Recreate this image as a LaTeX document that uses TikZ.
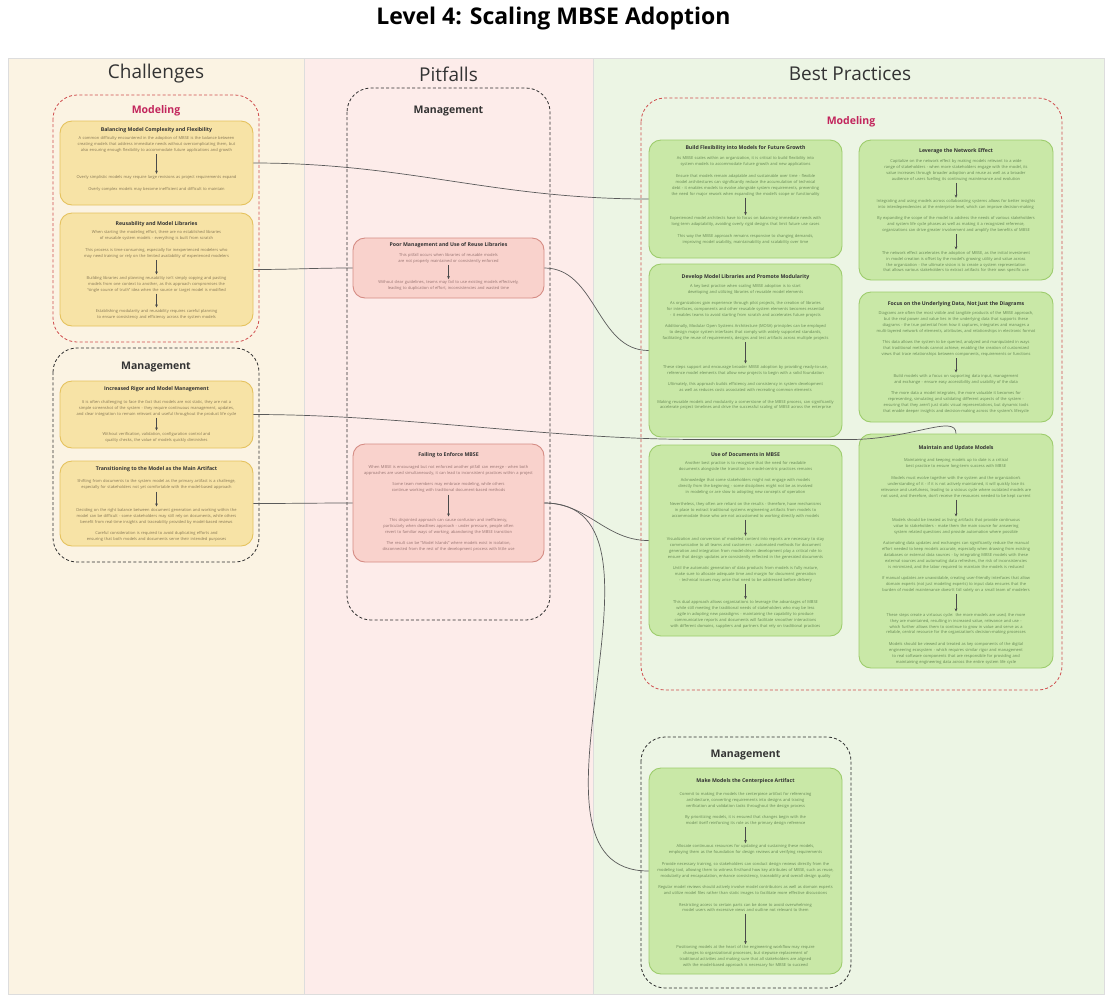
\documentclass[tikz,border=0pt]{standalone}
\usepackage{fontspec}
\setmainfont{Open Sans}
\usetikzlibrary{arrows.meta}

\definecolor{chalbg}{HTML}{FBF3E3}
\definecolor{pitbg}{HTML}{FDECEA}
\definecolor{bestbg}{HTML}{ECF5E4}
\definecolor{colline}{HTML}{DDDDDD}
\definecolor{yfill}{HTML}{F7E3A6}
\definecolor{ydraw}{HTML}{E5C25E}
\definecolor{ytext}{HTML}{857654}
\definecolor{pfill}{HTML}{F9D2CC}
\definecolor{pdraw}{HTML}{D58C84}
\definecolor{ptext}{HTML}{967370}
\definecolor{gfill}{HTML}{C9E8A7}
\definecolor{gdraw}{HTML}{9DCC6C}
\definecolor{gtext}{HTML}{668654}
\definecolor{ttlcol}{HTML}{333333}
\definecolor{modcol}{HTML}{C2255C}
\definecolor{moddash}{HTML}{CF4D4D}
\definecolor{mgmtdash}{HTML}{2E2E2E}
\definecolor{linkcol}{HTML}{5A5A5A}
\definecolor{arrcol}{HTML}{4A4A4A}

\newcommand{\paragap}{\\[5.6pt]}
\hyphenpenalty=10000
\exhyphenpenalty=10000

\begin{document}
\begin{tikzpicture}[x=1pt,y=-1pt,
  colbg/.style={draw=colline, line width=0.5pt},
  hdr/.style={font=\fontsize{19}{22}\selectfont, text=ttlcol, inner sep=0pt},
  grplabel/.style={font=\fontsize{10.5}{12}\selectfont\bfseries, inner sep=0pt},
  grp/.style={rounded corners=24pt, line width=0.8pt, dash pattern=on 3pt off 2.2pt},
  card/.style={rectangle, rounded corners=12pt, line width=0.9pt, inner sep=0pt},
  ycard/.style={card, draw=ydraw, fill=yfill},
  pcard/.style={card, draw=pdraw, fill=pfill},
  gcard/.style={card, draw=gdraw, fill=gfill},
  cardtitle/.style={font=\fontsize{5.2}{6}\selectfont\bfseries, text=ttlcol, inner sep=0pt},
  body/.style={anchor=north, text width=178pt, align=center, inner sep=0pt, font=\fontsize{4}{5.9}\selectfont},
  ybody/.style={body, text=ytext},
  pbody/.style={body, text=ptext, text width=176pt},
  gbody/.style={body, text=gtext},
  flow/.style={-{Stealth[length=3.2pt,width=2.8pt]}, draw=arrcol, line width=0.6pt, shorten <=1.5pt, shorten >=1.5pt},
  link/.style={draw=linkcol, line width=0.7pt},
]
\useasboundingbox (0,0) rectangle (1107,994);
\fill[white] (0,0) rectangle (1107,994);

% ---------- title and columns ----------
\node[font=\fontsize{23}{26}\selectfont\bfseries, text=black, inner sep=0pt] (title) at (553.5,19) {Level 4: Scaling MBSE Adoption};

\path[colbg, fill=chalbg] (8,58) rectangle (304,994);
\path[colbg, fill=pitbg] (304,58) rectangle (593,994);
\path[colbg, fill=bestbg] (593,58) rectangle (1104,994);

\node[hdr] (hchal) at (156,74) {Challenges};
\node[hdr] (hpit) at (448.5,74) {Pitfalls};
\node[hdr] (hbest) at (850,74) {Best Practices};

% ---------- dashed groups ----------
\draw[grp, draw=moddash] (53,95) rectangle (259,342);
\draw[grp, draw=mgmtdash] (53,348) rectangle (259,562);
\draw[grp, draw=mgmtdash] (347,88) rectangle (550,620);
\draw[grp, draw=moddash] (641,98) rectangle (1062,690);
\draw[grp, draw=mgmtdash] (641,737) rectangle (851,988);

\node[grplabel, text=modcol] (gcm) at (156,111) {Modeling};
\node[grplabel, text=ttlcol] (gcg) at (156,367) {Management};
\node[grplabel, text=ttlcol] (gpg) at (448.5,111) {Management};
\node[grplabel, text=modcol] (gbm) at (851,122) {Modeling};
\node[grplabel, text=ttlcol] (gbg) at (745.5,755) {Management};

% ---------- cards ----------
\node[ycard, minimum width=193pt, minimum height=84pt] (ch1) at (156.5,163) {};
\node[ycard, minimum width=193pt, minimum height=113pt] (ch2) at (156.5,269.5) {};
\node[ycard, minimum width=193pt, minimum height=67pt] (ch3) at (156.5,414.5) {};
\node[ycard, minimum width=193pt, minimum height=85pt] (ch4) at (156.5,503.5) {};
\node[pcard, minimum width=191pt, minimum height=60pt] (p1) at (448.5,268) {};
\node[pcard, minimum width=191pt, minimum height=118pt] (p2) at (448.5,503) {};
\node[gcard, minimum width=193pt, minimum height=118pt] (b1) at (745.5,199) {};
\node[gcard, minimum width=194pt, minimum height=140pt] (b2) at (956,210) {};
\node[gcard, minimum width=193pt, minimum height=173pt] (b3) at (745.5,350.5) {};
\node[gcard, minimum width=194pt, minimum height=130pt] (b4) at (956,357) {};
\node[gcard, minimum width=193pt, minimum height=191pt] (b5) at (745.5,540.5) {};
\node[gcard, minimum width=194pt, minimum height=234pt] (b6) at (956,551) {};
\node[gcard, minimum width=193pt, minimum height=206pt] (b7) at (745.5,871) {};

% ---------- connectors between cards ----------
\draw[link] (ch1.east) to[out=0,in=180] (b1.west);
\draw[link] (ch2.east) to[out=0,in=180] (p1.west);
\draw[link] (p1.east) to[out=0,in=180] (b3.west);
\draw[link] (ch3.east) .. controls +(150,0) and +(-150,0) .. ++(447,25) -- ++(150,0)
   .. controls +(60,0) and +(0,-20) .. (b6.north);
\draw[link] (ch4.east) to[out=0,in=180] (p2.west);
\draw[link] (p2.east) to[out=0,in=180] (b5.west);
\draw[link] (p2.east) to[out=0,in=180] (b7.west);

% ---------- Challenges: Modeling ----------
\node[cardtitle] (ch1t) at (156.5,129.7) {Balancing Model Complexity and Flexibility};
\node[ybody] (ch1a) at (156.5,136.7) {A common difficulty encountered in the adoption of MBSE is the balance between creating models that address immediate needs without overcomplicating them, but also ensuring enough flexibility to accommodate future applications and growth};
\node[ybody] (ch1b) at (156.5,175.3) {Overly simplistic models may require large revisions as project requirements expand\paragap Overly complex models may become inefficient and difficult to maintain};
\draw[flow] (ch1a.south) -- (ch1b.north);

\node[cardtitle] (ch2t) at (156.5,224) {Reusability and Model Libraries};
\node[ybody] (ch2a) at (156.5,230.7) {When starting the modeling effort, there are no established libraries of reusable system models - everything is built from scratch\paragap This process is time-consuming, especially for inexperienced modelers who may need training or rely on the limited availability of experienced modelers};
\node[ybody] (ch2b) at (156.5,276) {Building libraries and planning reusability isn't simply copying and pasting models from one context to another, as this approach compromises the ``single source of truth'' idea when the source or target model is modified};
\node[ybody] (ch2c) at (156.5,309) {Establishing modularity and reusability requires careful planning to ensure consistency and efficiency across the system models};
\draw[flow] (ch2a.south) -- (ch2b.north);
\draw[flow] (ch2b.south) -- (ch2c.north);

% ---------- Challenges: Management ----------
\node[cardtitle] (ch3t) at (156.5,389) {Increased Rigor and Model Management};
\node[ybody] (ch3a) at (156.5,400) {It is often challenging to face the fact that models are not static, they are not a simple screenshot of the system - they require continuous management, updates, and clear integration to remain relevant and useful throughout the product life cycle};
\node[ybody] (ch3b) at (156.5,432) {Without verification, validation, configuration control and quality checks, the value of models quickly diminishes};
\draw[flow] (ch3a.south) -- (ch3b.north);

\node[cardtitle] (ch4t) at (156.5,469) {Transitioning to the Model as the Main Artifact};
\node[ybody] (ch4a) at (156.5,479.7) {Shifting from documents to the system model as the primary artifact is a challenge, especially for stakeholders not yet comfortable with the model-based approach};
\node[ybody] (ch4b) at (156.5,508) {Deciding on the right balance between document generation and working within the model can be difficult - some stakeholders may still rely on documents, while others benefit from real-time insights and traceability provided by model-based reviews\paragap Careful consideration is required to avoid duplicating efforts and ensuring that both models and documents serve their intended purposes};
\draw[flow] (ch4a.south) -- (ch4b.north);

% ---------- Pitfalls ----------
\node[cardtitle] (p1t) at (448.5,245) {Poor Management and Use of Reuse Libraries};
\node[pbody] (p1a) at (448.5,253) {This pitfall occurs when libraries of reusable models are not properly maintained or consistently enforced};
\node[pbody] (p1b) at (448.5,280.7) {Without clear guidelines, teams may fail to use existing models effectively, leading to duplication of effort, inconsistencies and wasted time};
\draw[flow] (p1a.south) -- (p1b.north);

\node[cardtitle] (p2t) at (448.5,455) {Failing to Enforce MBSE};
\node[pbody] (p2a) at (448.5,465.3) {When MBSE is encouraged but not enforced another pitfall can emerge - when both approaches are used simultaneously, it can lead to inconsistent practices within a project\paragap Some team members may embrace modeling, while others continue working with traditional document-based methods};
\node[pbody] (p2b) at (448.5,518) {This disjointed approach can cause confusion and inefficiency, particularly when deadlines approach - under pressure, people often revert to familiar ways of working, abandoning the MBSE transition\paragap The result can be ``Model Islands'' where models exist in isolation, disconnected from the rest of the development process with little use};
\draw[flow] (p2a.south) -- (p2b.north);

% ---------- Best Practices: Modeling ----------
\node[cardtitle] (b1t) at (745.5,148) {Build Flexibility into Models for Future Growth};
\node[gbody] (b1a) at (745.5,156.7) {As MBSE scales within an organization, it is critical to build flexibility into system models to accommodate future growth and new applications\paragap Ensure that models remain adaptable and sustainable over time - flexible model architectures can significantly reduce the accumulation of technical debt - it enables models to evolve alongside system requirements, preventing the need for major rework when expanding the model's scope or functionality};
\node[gbody] (b1b) at (745.5,216.7) {Experienced model architects have to focus on balancing immediate needs with long-term adaptability, avoiding overly rigid designs that limit future use cases\paragap This way the MBSE approach remains responsive to changing demands, improving model usability, maintainability and scalability over time};
\draw[flow] (b1a.south) -- (b1b.north);

\node[cardtitle] (b2t) at (956,150.7) {Leverage the Network Effect};
\node[gbody] (b2a) at (956,159.3) {Capitalize on the network effect by making models relevant to a wide range of stakeholders - when more stakeholders engage with the model, its value increases through broader adoption and reuse as well as a broader audience of users fuelling its continuing maintenance and evolution};
\node[gbody] (b2b) at (956,199.3) {Integrating and using models across collaborating systems allows for better insights into interdependencies at the enterprise level, which can improve decision-making\paragap By expanding the scope of the model to address the needs of various stakeholders and system life cycle phases as well as making it a recognized reference, organizations can drive greater involvement and amplify the benefits of MBSE};
\node[gbody] (b2c) at (956,251) {The network effect accelerates the adoption of MBSE, as the initial investment in model creation is offset by the model's growing utility and value across the organization - the ultimate vision is to create a system representation that allows various stakeholders to extract artifacts for their own specific use};
\draw[flow] (b2a.south) -- (b2b.north);
\draw[flow] (b2b.south) -- (b2c.north);

\node[cardtitle] (b3t) at (745.5,277) {Develop Model Libraries and Promote Modularity};
\node[gbody] (b3a) at (745.5,284) {A key best practice when scaling MBSE adoption is to start developing and utilizing libraries of reusable model elements\paragap As organizations gain experience through pilot projects, the creation of libraries for interfaces, components and other reusable system elements becomes essential - it enables teams to avoid starting from scratch and accelerates future projects\paragap Additionally, Modular Open Systems Architecture (MOSA) principles can be employed to design major system interfaces that comply with widely supported standards, facilitating the reuse of requirements, designs and test artifacts across multiple projects};
\node[gbody] (b3b) at (745.5,365) {These steps support and encourage broader MBSE adoption by providing ready-to-use, reference model elements that allow new projects to begin with a solid foundation\paragap Ultimately, this approach builds efficiency and consistency in system development as well as reduces costs associated with recreating common elements\paragap Making reusable models and modularity a cornerstone of the MBSE process, can significantly accelerate project timelines and drive the successful scaling of MBSE across the enterprise};
\draw[flow] (b3a.south) -- (b3b.north);

\node[cardtitle] (b4t) at (956,304) {Focus on the Underlying Data, Not Just the Diagrams};
\node[gbody] (b4a) at (956,311.3) {Diagrams are often the most visible and tangible products of the MBSE approach, but the real power and value lies in the underlying data that supports these diagrams - the true potential from how it captures, integrates and manages a multi-layered network of elements, attributes, and relationships in electronic format\paragap This data allows the system to be queried, analyzed and manipulated in ways that traditional methods cannot achieve, enabling the creation of customized views that trace relationships between components, requirements or functions};
\node[gbody] (b4b) at (956,374) {Build models with a focus on supporting data input, management and exchange - ensure easy accessibility and usability of the data\paragap The more data a model integrates, the more valuable it becomes for representing, simulating and validating different aspects of the system - ensuring that they aren't just static visual representations, but dynamic tools that enable deeper insights and decision-making across the system's lifecycle};
\draw[flow] (b4a.south) -- (b4b.north);

\node[cardtitle] (b5t) at (745.5,455) {Use of Documents in MBSE};
\node[gbody] (b5a) at (745.5,461.3) {Another best practice is to recognize that the need for readable documents alongside the transition to model-centric practices remains\paragap Acknowledge that some stakeholders might not engage with models directly from the beginning - some disciplines might not be as involved in modeling or are slow to adopting new concepts of operation\paragap Nevertheless, they often are reliant on the results - therefore, have mechanisms in place to extract traditional systems engineering artifacts from models to accommodate those who are not accustomed to working directly with models};
\node[gbody] (b5b) at (745.5,537.3) {Visualization and conversion of modeled content into reports are necessary to stay communicative to all teams and customers - automated methods for document generation and integration from model-driven development play a critical role to ensure that design updates are consistently reflected in the generated documents\paragap Until the automatic generation of data products from models is fully mature, make sure to allocate adequate time and margin for document generation - technical issues may arise that need to be addressed before delivery};
\node[gbody] (b5c) at (745.5,600.7) {This dual approach allows organizations to leverage the advantages of MBSE while still meeting the traditional needs of stakeholders who may be less agile in adopting new paradigms - maintaining the capability to produce communicative reports and documents will facilitate smoother interactions with different domains, suppliers and partners that rely on traditional practices};
\draw[flow] (b5a.south) -- (b5b.north);
\draw[flow] (b5b.south) -- (b5c.north);

\node[cardtitle] (b6t) at (956,448) {Maintain and Update Models};
\node[gbody] (b6a) at (956,458.7) {Maintaining and keeping models up to date is a critical best practice to ensure long-term success with MBSE\paragap Models must evolve together with the system and the organization's understanding of it - if it is not actively maintained, it will quickly lose its relevance and usefulness, leading to a vicious cycle where outdated models are not used, and therefore, don't receive the resources needed to be kept current};
\node[gbody] (b6b) at (956,518) {Models should be treated as living artifacts that provide continuous value to stakeholders - make them the main source for answering system related questions and provide automation where possible\paragap Automating data updates and exchanges can significantly reduce the manual effort needed to keep models accurate, especially when drawing from existing databases or external data sources - by integrating MBSE models with these external sources and automating data refreshes, the risk of inconsistencies is minimized, and the labor required to maintain the models is reduced\paragap If manual updates are unavoidable, creating user-friendly interfaces that allow domain experts (not just modeling experts) to input data ensures that the burden of model maintenance doesn't fall solely on a small team of modelers};
\node[gbody] (b6c) at (956,613) {These steps create a virtuous cycle: the more models are used, the more they are maintained, resulting in increased value, relevance and use - which further allows them to continue to grow in value and serve as a reliable, central resource for the organization's decision-making processes\paragap Models should be viewed and treated as key components of the digital engineering ecosystem - which requires similar rigor and management to real software components that are responsible for providing and maintaining engineering data across the entire system life cycle};
\draw[flow] (b6a.south) -- (b6b.north);
\draw[flow] (b6b.south) -- (b6c.north);

% ---------- Best Practices: Management ----------
\node[cardtitle] (b7t) at (745.5,781) {Make Models the Centerpiece Artifact};
\node[gbody] (b7a) at (745.5,792.3) {Commit to making the models the centerpiece artifact for referencing architecture, converting requirements into designs and tracing verification and validation tasks throughout the design process\paragap By prioritizing models, it is ensured that changes begin with the model itself reinforcing its role as the primary design reference};
\node[gbody] (b7b) at (745.5,844.7) {Allocate continuous resources for updating and sustaining these models, employing them as the foundation for design reviews and verifying requirements\paragap Provide necessary training, so stakeholders can conduct design reviews directly from the modeling tool, allowing them to witness firsthand how key attributes of MBSE, such as reuse, modularity and encapsulation, enhance consistency, traceability and overall design quality\paragap Regular model reviews should actively involve model contributors as well as domain experts and utilize model files rather than static images to facilitate more effective discussions\paragap Restricting access to certain parts can be done to avoid overwhelming model users with excessive views and outline not relevant to them};
\node[gbody] (b7c) at (745.5,945.7) {Positioning models at the heart of the engineering workflow may require changes to organizational processes, but stepwise replacement of traditional activities and making sure that all stakeholders are aligned with the model-based approach is necessary for MBSE to succeed};
\draw[flow] (b7a.south) -- (b7b.north);
\draw[flow] (b7b.south) -- (b7c.north);
\end{tikzpicture}
\end{document}
